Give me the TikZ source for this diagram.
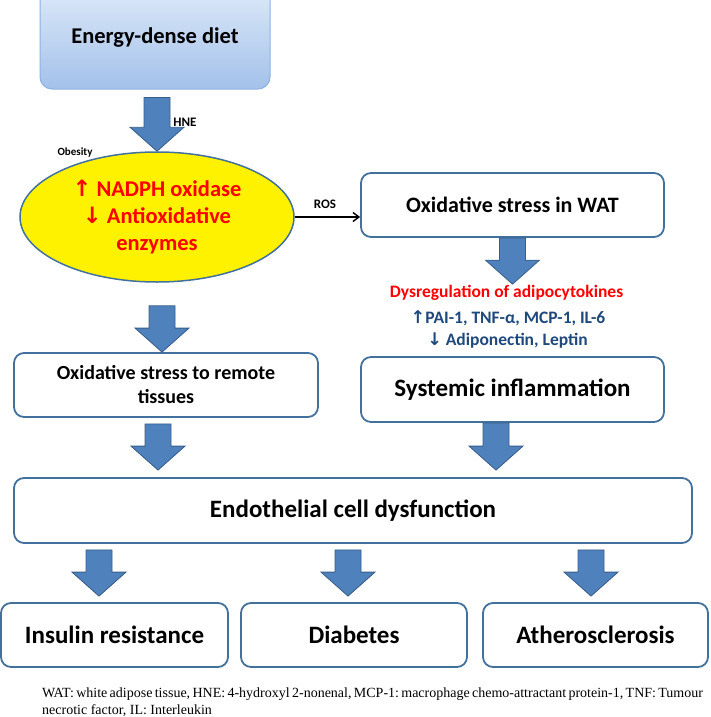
\documentclass[tikz,border=0pt]{standalone}
\usepackage{fontspec}
\setmainfont{Carlito}
\newfontfamily\capfont{Liberation Serif}
\newfontfamily\symf{DejaVu Sans}
\usetikzlibrary{shapes.geometric,calc,arrows.meta}
\definecolor{boxline}{RGB}{65,113,156}
\definecolor{arrfill}{RGB}{79,129,189}
\definecolor{arrline}{RGB}{56,93,138}
\definecolor{toptop}{RGB}{221,233,248}
\definecolor{topbot}{RGB}{163,193,234}
\definecolor{topline}{RGB}{142,178,224}
\definecolor{dblue}{RGB}{31,73,125}
\definecolor{myred}{RGB}{255,0,0}
\tikzset{
  box/.style={draw=boxline, line width=1.8pt, rounded corners=10pt, fill=white,
    inner sep=0pt, font=\bfseries, align=center},
  barrow/.style={fill=arrfill, draw=arrline, line width=0.8pt,
    to path={let \p1=(\tikztostart), \p2=(\tikztotarget) in
      (\x2-13pt,\y1) -- (\x2+13pt,\y1) -- (\x2+13pt,\y2+24pt) -- (\x2+27pt,\y2+24pt)
      -- (\x2,\y2) -- (\x2-27pt,\y2+24pt) -- (\x2-13pt,\y2+24pt) -- cycle}},
  lbl/.style={font=\bfseries\fontsize{13}{15}\selectfont, inner sep=0pt},
  captxt/.style={inner sep=0pt, font=\capfont\frenchspacing\fontsize{14}{17}\selectfont}
}
\begin{document}
\begin{tikzpicture}[x=1pt,y=-1pt]
\useasboundingbox (0,0) rectangle (710,717);
\clip (0,0) rectangle (710,717);

% nodes
\node[draw=topline, line width=1pt, rounded corners=12pt, top color=toptop, bottom color=topbot,
  minimum width=230pt, minimum height=102pt, inner sep=0pt,
  font=\bfseries\fontsize{22.5}{27}\selectfont] (energy) at (155,38) {Energy-dense diet};

\node[ellipse, draw=boxline, line width=1.5pt, fill=yellow, minimum width=274pt, minimum height=130pt,
  inner sep=0pt, text=myred, align=center, font=\bfseries\fontsize{22.5}{27}\selectfont]
  (ell) at (157,217) {{\symf↑} NADPH oxidase\\{\symf↓} Antioxidative\\enzymes};

\node[box, minimum width=303pt, minimum height=64pt, font=\bfseries\fontsize{22}{26}\selectfont]
  (wat) at (512.5,205) {Oxidative stress in WAT};

\node[text=myred, inner sep=0pt, font=\bfseries\fontsize{17.5}{20}\selectfont] (dys) at (506.5,293) {Dysregulation of adipocytokines};
\node[text=dblue, inner sep=0pt, font=\bfseries\fontsize{17.5}{20}\selectfont] (up) at (508,318) {{\symf↑}PAI-1, TNF-α, MCP-1, IL-6};
\node[text=dblue, inner sep=0pt, font=\bfseries\fontsize{17.5}{20}\selectfont] (down) at (507.5,340) {{\symf↓} Adiponectin, Leptin};

\node[box, minimum width=303pt, minimum height=65pt, font=\bfseries\fontsize{25}{30}\selectfont]
  (sys) at (512.5,389.5) {Systemic inflammation};

\node[box, minimum width=304pt, minimum height=64pt, font=\bfseries\fontsize{20}{24}\selectfont]
  (rem) at (166,385) {Oxidative stress to remote\\tissues};

\node[box, minimum width=678pt, minimum height=65pt, font=\bfseries\fontsize{25}{30}\selectfont]
  (endo) at (353,510.5) {Endothelial cell dysfunction};

\node[box, minimum width=227pt, minimum height=64pt, font=\bfseries\fontsize{25}{30}\selectfont]
  (ins) at (114.5,635) {Insulin resistance};
\node[box, minimum width=226pt, minimum height=64pt, font=\bfseries\fontsize{25}{30}\selectfont]
  (dia) at (354,635) {Diabetes};
\node[box, minimum width=225pt, minimum height=64pt, font=\bfseries\fontsize{25}{30}\selectfont]
  (ath) at (595.5,635) {Atherosclerosis};

% labels
\node[lbl] (hne) at (185,122) {HNE};
\node[lbl, font=\bfseries\fontsize{11}{13}\selectfont] (obes) at (75,153) {Obesity};
\node[lbl] (ros) at (325,204) {ROS};

% block arrows
\draw[barrow] ([yshift=-8pt]energy.south) to ([xshift=2pt]energy.south |- ell.north);
\draw[barrow] ([yshift=-23pt]ell.south) to ($(rem.north)+(-4,0)$);
\draw[barrow] (wat.south) to ($(wat.south |- dys.north)+(0,-1)$);
\draw[barrow] ([yshift=-6pt]rem.south) to ($(endo.north)+(-195,-7)$);
\draw[barrow] (sys.south) to ($(endo.north)+(143,-7)$);
\draw[barrow] ([yshift=-6pt]endo.south) to ($(ins.north)+(-15.5,-6)$);
\draw[barrow] ([yshift=-6pt]endo.south) to ($(dia.north)+(-6,-6)$);
\draw[barrow] ([yshift=-6pt]endo.south) to ($(ath.north)+(-4.5,-6)$);

% ROS arrow
\draw[line width=1.4pt, -{Straight Barb[length=6pt,width=9pt]}] (ell.east) -- (ell.east -| wat.west);

% caption
\node[captxt] (cap1) at (370,694)
  {\makebox[656pt][s]{WAT: white adipose tissue, HNE: 4-hydroxyl 2-nonenal, MCP-1: macrophage chemo-attractant protein-1, TNF: Tumour}};
\node[captxt, anchor=west] (cap2) at (42,711)
  {necrotic factor, IL: Interleukin};
\end{tikzpicture}
\end{document}
